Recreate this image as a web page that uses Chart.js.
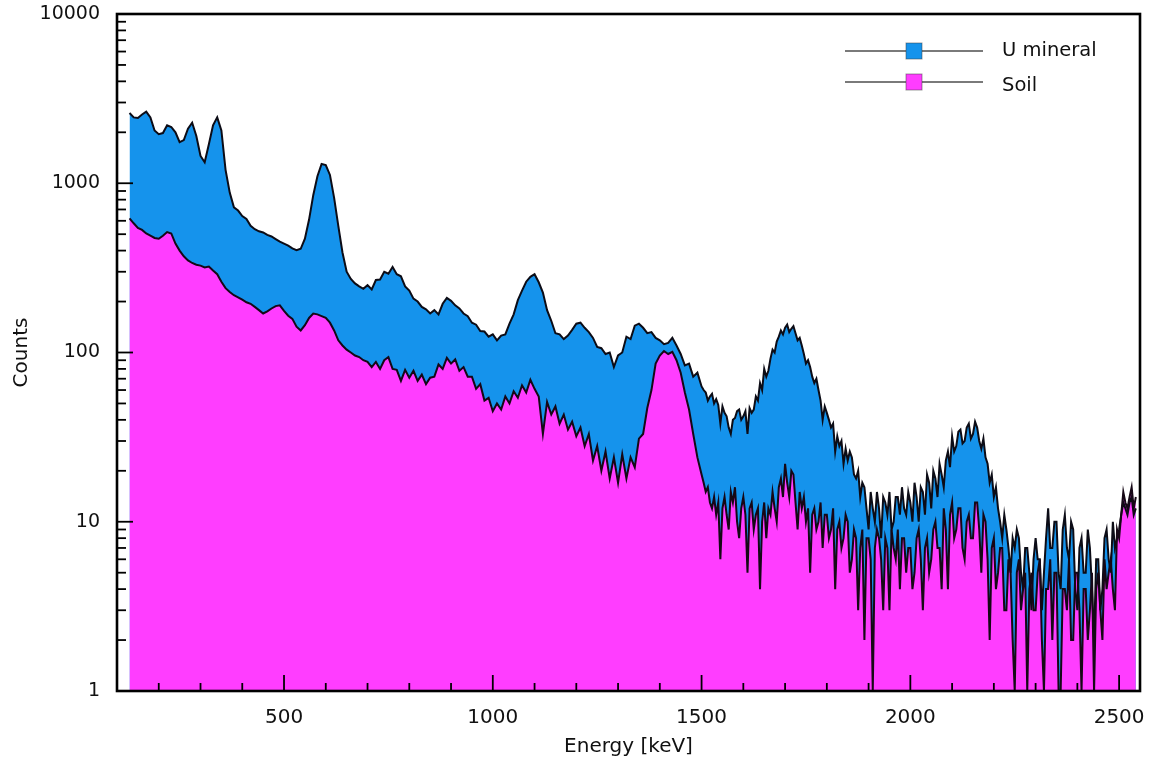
<!DOCTYPE html>
<html>
<head>
<meta charset="utf-8">
<title>Gamma spectrum</title>
<script src="https://cdn.jsdelivr.net/npm/chart.js@4.4.0/dist/chart.umd.min.js"></script>
<style>
  html, body { margin: 0; padding: 0; background: #fff; }
</style>
</head>
<body>
<canvas id="spectrum" width="1149" height="761"></canvas>
<script>
// binning (keV): 10 keV bins up to 1490, 5 keV bins from 1500 on
const lowStart = 130;
const lowWidth = 10;
const highStart = 1500;
const highWidth = 5;

// U mineral, 130-1490 keV, one row = 100 keV
const uMineralLow = [
  2600, 2450, 2430, 2550, 2650, 2450, 2050, 1950, 1980, 2200, // 130
  2150, 2000, 1750, 1800, 2100, 2280, 1900, 1450, 1330, 1700, // 230
  2200, 2450, 2050, 1200, 880, 720, 690, 640, 615, 560,       // 330
  535, 520, 512, 495, 485, 468, 452, 440, 428, 412,           // 430
  402, 410, 470, 610, 850, 1100, 1300, 1280, 1120, 820,       // 530
  560, 390, 300, 272, 256, 246, 238, 250, 236, 268,           // 630
  270, 300, 292, 320, 290, 282, 246, 232, 208, 200,           // 730
  186, 180, 170, 178, 168, 194, 210, 202, 190, 182,           // 830
  170, 164, 150, 146, 134, 133, 124, 128, 118, 126,           // 930
  128, 148, 168, 204, 232, 262, 280, 290, 260, 226,           // 1030
  178, 154, 130, 128, 120, 126, 136, 148, 150, 140,           // 1130
  132, 122, 108, 106, 98, 100, 82, 96, 100, 124,              // 1230
  120, 144, 148, 140, 130, 132, 122, 118, 112, 114,           // 1330
  122, 110, 98, 84, 86, 72, 76                                // 1430
];

// U mineral, 1500-2540 keV, one row = 100 keV
const uMineralHigh = [
  63, 60, 58, 52, 55, 57, 50, 53, 49, 38, 48, 44, 42, 36, 33, 40, 41, 45, 46, 40,                // 1500
  42, 45, 33, 47, 44, 46, 55, 52, 66, 60, 80, 72, 78, 92, 104, 100, 116, 124, 135, 128,         // 1600
  140, 146, 132, 138, 143, 130, 118, 122, 110, 98, 86, 90, 82, 72, 66, 70, 60, 52, 40, 48,      // 1700
  44, 40, 36, 38, 26, 32, 28, 30, 22, 27, 23, 26, 24, 19, 18, 20, 14, 17, 16, 12,               // 1800
  9, 15, 12, 10, 15, 12, 8, 14, 13, 11, 15, 9, 10, 14, 14, 11, 16, 12, 11, 15,                  // 1900
  13, 10, 17, 14, 10, 16, 15, 11, 19, 17, 12, 20, 18, 14, 22, 19, 16, 23, 26, 21,               // 2000
  32, 26, 28, 34, 35, 29, 30, 36, 38, 31, 33, 39, 36, 30, 27, 31, 24, 22, 17, 19,               // 2100
  14, 16, 12, 10, 8, 11, 9, 7, 5, 8, 7, 9, 8, 5, 4, 7, 7, 5, 3, 6,                              // 2200
  8, 6, 6, 3, 5, 8, 12, 7, 7, 10, 10, 5, 4, 9, 11, 7, 6, 10, 9, 4,                              // 2300
  3, 7, 8, 5, 5, 9, 7, 4, 2, 6, 6, 3, 4, 8, 9, 6, 5, 10, 7, 8,                                  // 2400
  9, 11, 13, 12, 11, 13, 14, 11, 12                                                             // 2500
];

// Soil, 130-1490 keV
const soilLow = [
  620, 580, 545, 530, 505, 490, 475, 470, 490, 515,           // 130
  505, 440, 400, 370, 350, 338, 330, 326, 318, 322,           // 230
  305, 290, 262, 240, 228, 218, 212, 205, 198, 194,           // 330
  186, 178, 170, 175, 182, 188, 190, 176, 165, 158,           // 430
  142, 135, 145, 160, 170, 168, 164, 160, 150, 135,           // 530
  118, 110, 104, 100, 96, 94, 90, 88, 82, 88,                 // 630
  80, 90, 94, 80, 79, 68, 79, 71, 78, 68,                     // 730
  74, 65, 71, 72, 85, 80, 93, 86, 91, 78,                     // 830
  82, 72, 72, 61, 65, 52, 54, 45, 50, 46,                     // 930
  55, 50, 59, 54, 64, 58, 69, 61, 55, 33,                     // 1030
  51, 43, 48, 38, 43, 35, 39, 32, 36, 28,                     // 1130
  33, 23, 28, 20, 26, 18, 24, 17, 25, 18,                     // 1230
  24, 21, 31, 33, 47, 60, 86, 96, 102, 98,                    // 1330
  101, 90, 76, 58, 46, 33, 24                                 // 1430
];

// Soil, 1500-2540 keV
const soilHigh = [
  19, 17, 15, 16, 13, 12, 14, 11, 13, 6, 12, 14, 11, 9, 15, 13, 16, 10, 8, 12,   // 1500
  14, 11, 5, 12, 13, 9, 11, 12, 4, 10, 13, 8, 12, 11, 15, 12, 10, 16, 18, 14,    // 1600
  22, 17, 14, 20, 19, 13, 9, 15, 12, 14, 10, 12, 5, 11, 12, 9, 10, 13, 7, 11,    // 1700
  11, 8, 9, 12, 4, 9, 10, 7, 8, 11, 10, 5, 6, 9, 8, 3, 7, 9, 2, 8,               // 1800
  8, 6, 1, 7, 9, 8, 6, 3, 8, 7, 3, 9, 7, 6, 9, 4, 8, 8, 5, 7,                    // 1900
  7, 4, 5, 8, 9, 6, 3, 7, 8, 5, 6, 9, 10, 7, 7, 4, 12, 9, 4, 11,                 // 2000
  13, 8, 9, 12, 12, 7, 6, 10, 11, 8, 8, 13, 13, 9, 5, 11, 10, 6, 2, 7,           // 2100
  8, 4, 5, 7, 7, 3, 3, 6, 5, 2, 1, 5, 6, 3, 4, 5, 1, 4, 5, 3,                    // 2200
  3, 5, 6, 2, 1, 4, 4, 6, 2, 5, 5, 1, 1, 4, 4, 3, 6, 2, 2, 5,                    // 2300
  5, 3, 1, 4, 4, 2, 3, 5, 1, 4, 5, 3, 2, 6, 4, 5, 6, 4, 3, 9,                    // 2400
  8, 11, 15, 13, 12, 14, 16, 12, 14                                              // 2500
];

// axis ticks
const xMinorTicks = [100, 200, 300, 400, 500, 600, 700, 800, 900, 1000, 1100, 1200, 1300,
  1400, 1500, 1600, 1700, 1800, 1900, 2000, 2100, 2200, 2300, 2400, 2500];
const xLabelTicks = [500, 1000, 1500, 2000, 2500];
const yDecades = [1, 10, 100, 1000, 10000];

const yMinorTicks = [];
yDecades.slice(0, -1).forEach(d => {
  for (let m = 1; m <= 9; m++) yMinorTicks.push(d * m);
});
yMinorTicks.push(10000);

const toPoints = (low, high) => [
  ...low.map((c, i) => ({ x: lowStart + i * lowWidth, y: c })),
  ...high.map((c, i) => ({ x: highStart + i * highWidth, y: c }))
];

const BLUE = '#1593ec';
const MAGENTA = '#ff3dff';
const FONT = 'DejaVu Sans';

// inward tick marks + heavy frame around the plot
const frameTicks = {
  id: 'frameTicks',
  afterDatasetsDraw(chart) {
    const { ctx, chartArea: { left, right, top, bottom }, scales: { x, y } } = chart;
    ctx.save();
    ctx.strokeStyle = '#000';
    ctx.lineWidth = 1.8;
    x.ticks.forEach(t => {
      const px = x.getPixelForValue(t.value);
      const len = xLabelTicks.includes(t.value) ? 16 : 8;
      ctx.beginPath();
      ctx.moveTo(px, bottom);
      ctx.lineTo(px, bottom - len);
      ctx.stroke();
    });
    y.ticks.forEach(t => {
      const py = y.getPixelForValue(t.value);
      const len = yDecades.includes(t.value) ? 16 : 9;
      ctx.beginPath();
      ctx.moveTo(left, py);
      ctx.lineTo(left + len, py);
      ctx.stroke();
    });
    ctx.lineWidth = 2.6;
    ctx.strokeRect(left, top, right - left, bottom - top);
    ctx.restore();
  }
};

// legend: grey line with a coloured square in the middle
const lineLegend = {
  id: 'lineLegend',
  afterDraw(chart) {
    const { ctx, chartArea: { right, top } } = chart;
    ctx.save();
    chart.data.datasets.forEach((ds, i) => {
      const cy = top + 37 + i * 31;
      const x0 = right - 295, x1 = right - 157, mid = (x0 + x1) / 2;
      ctx.strokeStyle = '#7a7a7a';
      ctx.lineWidth = 2;
      ctx.beginPath();
      ctx.moveTo(x0, cy);
      ctx.lineTo(x1, cy);
      ctx.stroke();
      ctx.fillStyle = ds.backgroundColor;
      ctx.fillRect(mid - 8, cy - 8, 16, 16);
      ctx.strokeStyle = 'rgba(60,60,60,0.5)';
      ctx.lineWidth = 1;
      ctx.strokeRect(mid - 8, cy - 8, 16, 16);
      ctx.fillStyle = '#111';
      ctx.font = '19.5px "' + FONT + '"';
      ctx.textBaseline = 'middle';
      ctx.textAlign = 'left';
      ctx.fillText(ds.label, right - 138, cy + i * 4);
    });
    ctx.restore();
  }
};

const config = {
  type: 'line',
  data: {
    datasets: [
      {
        label: 'U mineral',
        data: toPoints(uMineralLow, uMineralHigh),
        backgroundColor: BLUE,
        borderColor: '#0c0c16',
        fill: 'start',
        order: 2
      },
      {
        label: 'Soil',
        data: toPoints(soilLow, soilHigh),
        backgroundColor: MAGENTA,
        borderColor: '#160816',
        fill: 'start',
        order: 1
      }
    ]
  },
  options: {
    responsive: false,
    animation: false,
    events: [],
    layout: { padding: { top: 14, right: 9, left: 0, bottom: 0 } },
    elements: {
      point: { radius: 0 },
      line: { borderWidth: 2, tension: 0 }
    },
    plugins: {
      legend: { display: false },
      tooltip: { enabled: false },
      filler: { drawTime: 'beforeDatasetsDraw' }
    },
    scales: {
      x: {
        type: 'linear',
        min: 100,
        max: 2550,
        afterFit: s => { s.height = 70; s.paddingLeft = 0; s.paddingRight = 0; },
        afterBuildTicks: s => { s.ticks = xMinorTicks.map(v => ({ value: v })); },
        grid: { display: false, drawTicks: false },
        border: { display: false },
        ticks: {
          autoSkip: false,
          maxRotation: 0,
          padding: 15,
          color: '#111',
          font: { family: FONT, size: 20 },
          callback: v => xLabelTicks.includes(v) ? String(v) : ''
        },
        title: {
          display: true,
          text: 'Energy [keV]',
          color: '#111',
          font: { family: FONT, size: 20 },
          padding: { top: 0, bottom: 2 }
        }
      },
      y: {
        type: 'logarithmic',
        min: 1,
        max: 10000,
        afterFit: s => { s.width = 117; s.paddingTop = 0; s.paddingBottom = 0; },
        afterBuildTicks: s => { s.ticks = yMinorTicks.map(v => ({ value: v })); },
        grid: { display: false, drawTicks: false },
        border: { display: false },
        ticks: {
          autoSkip: false,
          padding: 17,
          color: '#111',
          font: { family: FONT, size: 19 },
          callback: v => yDecades.includes(v) ? String(v) : ''
        },
        title: {
          display: true,
          text: 'Counts',
          color: '#111',
          font: { family: FONT, size: 20 },
          padding: { top: 10, bottom: 0 }
        }
      }
    }
  },
  plugins: [frameTicks, lineLegend]
};

const spectrumChart = new Chart(document.getElementById('spectrum').getContext('2d'), config);
</script>
</body>
</html>
